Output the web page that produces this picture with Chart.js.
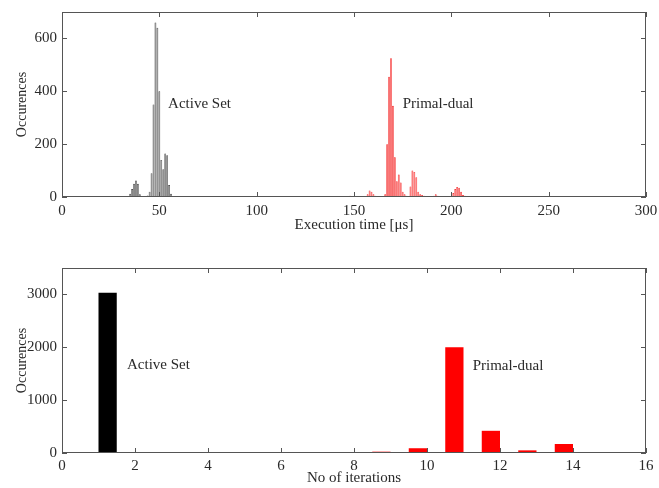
<!DOCTYPE html>
<html>
<head>
<meta charset="utf-8">
<script src="https://cdn.jsdelivr.net/npm/chart.js@4.4.1/dist/chart.umd.min.js"></script>
<style>
  html, body { margin: 0; padding: 0; background: #fff; overflow: hidden; }
  .wrap { position: absolute; left: 0; width: 659px; }
  #top { top: 0; height: 240px; }
  #bot { top: 255px; height: 233px; }
</style>
</head>
<body>
<div class="wrap" id="top"><canvas id="timeChart"></canvas></div>
<div class="wrap" id="bot"><canvas id="iterChart"></canvas></div>
<script>
// execution time histogram (1 us bins)
const activeTimes  = [34, 35, 36, 37, 38, 39, 40, 41, 44, 45, 46, 47, 48, 49, 50, 51, 52, 53, 54, 55, 56, 57];
const activeCounts = [4, 12, 30, 50, 62, 50, 10, 3, 6, 20, 90, 350, 660, 640, 400, 140, 105, 165, 158, 45, 12, 4];
const primalTimes  = [147, 148, 149, 157, 158, 159, 160, 161, 162, 166, 167, 168, 169, 170, 171, 172, 173, 174, 175, 176, 177,
                      179, 180, 181, 182, 183, 184, 185, 186, 188, 191, 192, 193, 196, 201, 202, 203, 204, 205, 206, 207, 209, 214];
const primalCounts = [3, 5, 3, 10, 25, 20, 10, 5, 3, 10, 200, 455, 525, 345, 150, 60, 85, 55, 20, 10, 5,
                      40, 100, 95, 75, 20, 10, 8, 5, 3, 5, 10, 5, 3, 15, 30, 38, 35, 20, 8, 5, 3, 2];
const timeTicks = [0, 50, 100, 150, 200, 250, 300];
const timeCountTicks = [0, 200, 400, 600];

// iteration count histogram
const activeIters  = [1.25];
const activeIterCounts = [3030];
const primalIters  = [8.75, 9.75, 10.75, 11.75, 12.75, 13.75];
const primalIterCounts = [25, 90, 2000, 420, 50, 170];
const iterTicks = [0, 2, 4, 6, 8, 10, 12, 14, 16];
const iterCountTicks = [0, 1000, 2000, 3000];

const FONT = '"Liberation Serif", "DejaVu Serif", serif';
const TXT = '#2a2a2a';
const AXIS = '#555';

function pts(xs, ys) { return xs.map((x, i) => ({ x: x, y: ys[i] })); }

// box + inward ticks, matlab style
const frame = {
  id: 'frame',
  afterDraw(chart, args, opts) {
    const { ctx, chartArea: a, scales } = chart;
    ctx.save();
    ctx.strokeStyle = AXIS;
    ctx.lineWidth = 1;
    ctx.strokeRect(a.left + 0.5, a.top + 0.5, a.right - a.left - 1, a.bottom - a.top - 1);
    ctx.beginPath();
    opts.xt.forEach(v => {
      const px = Math.round(scales.x.getPixelForValue(v)) + 0.5;
      ctx.moveTo(px, a.bottom); ctx.lineTo(px, a.bottom - 5);
      ctx.moveTo(px, a.top); ctx.lineTo(px, a.top + 5);
    });
    opts.yt.forEach(v => {
      const py = Math.round(scales.y.getPixelForValue(v)) + 0.5;
      ctx.moveTo(a.left, py); ctx.lineTo(a.left + 5, py);
      ctx.moveTo(a.right, py); ctx.lineTo(a.right - 5, py);
    });
    ctx.stroke();
    ctx.fillStyle = TXT;
    ctx.font = '15px ' + FONT;
    ctx.textBaseline = 'middle';
    opts.labels.forEach(l => {
      ctx.fillText(l.text, scales.x.getPixelForValue(l.x), scales.y.getPixelForValue(l.y));
    });
    ctx.restore();
  }
};

function axes(xMax, xStep, xTitle, yMax, yTicks, yTitle, xHeight, tickPad, titlePad) {
  return {
    x: {
      type: 'linear', min: 0, max: xMax, offset: false,
      grid: { display: false, offset: false }, border: { display: false },
      ticks: { stepSize: xStep, color: TXT, font: { family: FONT, size: 15 }, padding: tickPad, maxRotation: 0 },
      title: { display: true, text: xTitle, color: TXT, font: { family: FONT, size: 15 }, padding: { top: 0, bottom: titlePad } },
      afterFit: s => { s.height = xHeight; s.paddingLeft = 0; s.paddingRight = 0; }
    },
    y: {
      min: 0, max: yMax,
      grid: { display: false }, border: { display: false },
      afterBuildTicks: s => { s.ticks = yTicks.map(v => ({ value: v })); },
      ticks: { color: TXT, font: { family: FONT, size: 15 }, padding: -3, callback: v => String(v) },
      title: { display: true, text: yTitle, color: TXT, font: { family: FONT, size: 14 }, padding: { top: 14, bottom: 0 } },
      afterFit: s => { s.width = 62; }
    }
  };
}

new Chart(document.getElementById('timeChart'), {
  type: 'bar',
  data: {
    datasets: [
      { label: 'Active Set', data: pts(activeTimes, activeCounts), backgroundColor: '#7e7e7e',
        borderColor: '#3a3a3a', borderWidth: 0.6, barPercentage: 1, categoryPercentage: 0.95, grouped: false },
      { label: 'Primal-dual', data: pts(primalTimes, primalCounts), backgroundColor: '#ff6060',
        borderColor: '#ee1c1c', borderWidth: 0.6, barPercentage: 1, categoryPercentage: 0.95, grouped: false }
    ]
  },
  options: {
    responsive: true, maintainAspectRatio: false, animation: false,
    layout: { padding: { top: 12, right: 13, left: 0, bottom: 0 } },
    plugins: {
      legend: { display: false }, tooltip: { enabled: false },
      frame: { xt: timeTicks, yt: timeCountTicks,
        labels: [{ text: 'Active Set', x: 54.5, y: 350 }, { text: 'Primal-dual', x: 175, y: 350 }] }
    },
    scales: axes(300, 50, 'Execution time [\u03bcs]', 700, timeCountTicks, 'Occurences', 43, -3, 6)
  },
  plugins: [frame]
});

new Chart(document.getElementById('iterChart'), {
  type: 'bar',
  data: {
    datasets: [
      { label: 'Active Set', data: pts(activeIters, activeIterCounts), backgroundColor: '#000',
        barPercentage: 0.5, categoryPercentage: 1, grouped: false },
      { label: 'Primal-dual', data: pts(primalIters, primalIterCounts), backgroundColor: '#ff0000',
        barPercentage: 0.5, categoryPercentage: 1, grouped: false }
    ]
  },
  options: {
    responsive: true, maintainAspectRatio: false, animation: false,
    layout: { padding: { top: 13, right: 13, left: 0, bottom: 0 } },
    plugins: {
      legend: { display: false }, tooltip: { enabled: false },
      frame: { xt: iterTicks, yt: iterCountTicks,
        labels: [{ text: 'Active Set', x: 1.78, y: 1660 }, { text: 'Primal-dual', x: 11.25, y: 1640 }] }
    },
    scales: axes(16, 2, 'No of iterations', 3500, iterCountTicks, 'Occurences', 35, -4, 1)
  },
  plugins: [frame]
});
</script>
</body>
</html>
